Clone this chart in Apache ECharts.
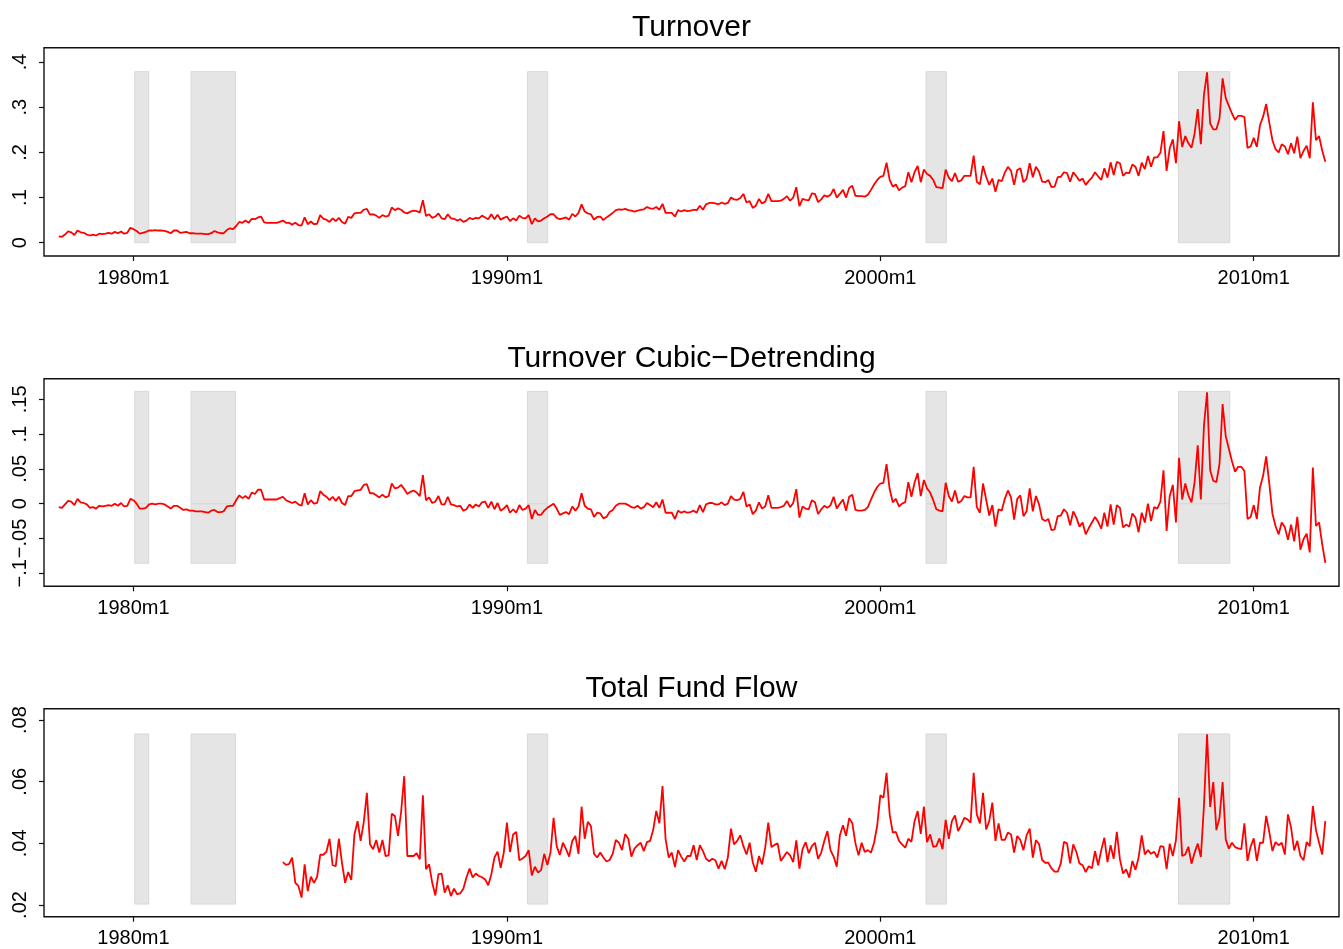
<!DOCTYPE html>
<html><head><meta charset="utf-8">
<script src="https://cdn.jsdelivr.net/npm/echarts@6/dist/echarts.min.js"></script>
<style>html,body{margin:0;padding:0;background:#fff}#c{width:1343px;height:949px}</style>
</head><body><div id="c"></div>
<script>
// ---- data (monthly, index 0 = 1978m1) ----
const seriesStart = "1978m1";
const fundFlowStart = "1984m1";
const xTickLabels = ["1980m1", "1990m1", "2000m1", "2010m1"];
const titles = ["Turnover", "Turnover Cubic\u2212Detrending", "Total Fund Flow"];

const turnover = [
0.014,0.013,0.018,0.025,0.023,0.017,0.027,0.023,0.022,0.018,
0.016,0.018,0.016,0.020,0.019,0.020,0.022,0.020,0.024,0.021,
0.025,0.020,0.022,0.033,0.030,0.026,0.020,0.022,0.024,0.027,
0.027,0.028,0.027,0.027,0.026,0.024,0.021,0.027,0.027,0.022,
0.023,0.024,0.021,0.021,0.020,0.020,0.020,0.019,0.019,0.021,
0.026,0.023,0.021,0.021,0.028,0.032,0.030,0.037,0.046,0.044,
0.049,0.044,0.053,0.052,0.056,0.058,0.045,0.044,0.044,0.044,
0.044,0.046,0.049,0.044,0.044,0.040,0.044,0.039,0.038,0.056,
0.041,0.047,0.041,0.042,0.061,0.053,0.051,0.046,0.054,0.048,
0.055,0.046,0.042,0.057,0.055,0.065,0.066,0.066,0.073,0.075,
0.062,0.063,0.060,0.055,0.061,0.058,0.060,0.078,0.072,0.076,
0.073,0.067,0.065,0.069,0.071,0.070,0.067,0.094,0.059,0.063,
0.055,0.058,0.065,0.054,0.052,0.063,0.054,0.053,0.049,0.052,
0.046,0.049,0.055,0.052,0.055,0.054,0.060,0.056,0.052,0.063,
0.052,0.062,0.051,0.055,0.058,0.048,0.054,0.049,0.060,0.055,
0.054,0.061,0.041,0.054,0.047,0.049,0.054,0.058,0.063,0.063,
0.055,0.052,0.054,0.056,0.051,0.064,0.058,0.066,0.085,0.069,
0.065,0.063,0.051,0.057,0.058,0.050,0.056,0.061,0.066,0.072,
0.074,0.073,0.075,0.072,0.071,0.069,0.071,0.073,0.074,0.079,
0.076,0.075,0.079,0.073,0.086,0.066,0.066,0.066,0.058,0.072,
0.069,0.072,0.070,0.071,0.073,0.072,0.082,0.073,0.085,0.088,
0.088,0.087,0.085,0.089,0.086,0.088,0.100,0.096,0.095,0.099,
0.108,0.089,0.092,0.077,0.082,0.097,0.087,0.091,0.108,0.092,
0.092,0.092,0.093,0.097,0.103,0.093,0.100,0.123,0.081,0.097,
0.095,0.094,0.109,0.108,0.090,0.096,0.105,0.102,0.106,0.119,
0.100,0.108,0.117,0.100,0.121,0.126,0.104,0.103,0.103,0.102,
0.106,0.117,0.129,0.139,0.146,0.148,0.177,0.139,0.124,0.129,
0.116,0.122,0.125,0.156,0.134,0.156,0.170,0.134,0.162,0.152,
0.148,0.139,0.123,0.122,0.121,0.162,0.144,0.136,0.154,0.135,
0.138,0.148,0.148,0.148,0.193,0.135,0.129,0.170,0.146,0.128,
0.142,0.113,0.139,0.136,0.155,0.168,0.159,0.128,0.161,0.165,
0.134,0.142,0.176,0.145,0.168,0.157,0.135,0.134,0.139,0.123,
0.124,0.145,0.146,0.156,0.154,0.135,0.156,0.147,0.137,0.142,
0.128,0.137,0.144,0.156,0.147,0.139,0.165,0.144,0.178,0.150,
0.179,0.176,0.148,0.155,0.154,0.173,0.168,0.148,0.177,0.163,
0.192,0.168,0.189,0.189,0.199,0.247,0.159,0.209,0.229,0.176,
0.269,0.212,0.236,0.220,0.210,0.242,0.296,0.218,0.327,0.377,
0.264,0.251,0.251,0.275,0.364,0.320,0.303,0.286,0.272,0.281,
0.281,0.278,0.210,0.213,0.232,0.212,0.260,0.279,0.307,0.266,
0.227,0.207,0.200,0.218,0.213,0.196,0.220,0.198,0.235,0.187,
0.203,0.215,0.187,0.311,0.227,0.236,0.204,0.179
];

const turnoverDetrended = [
-0.005,-0.006,-0.001,0.004,0.003,-0.002,0.007,0.002,0.001,-0.001,
-0.006,-0.005,-0.007,-0.003,-0.004,-0.003,-0.002,-0.003,0.000,-0.003,
0.001,-0.004,-0.003,0.007,0.005,0.000,-0.007,-0.007,-0.006,-0.001,
0.000,-0.001,0.000,0.000,-0.001,-0.004,-0.007,-0.003,-0.003,-0.006,
-0.009,-0.008,-0.010,-0.010,-0.011,-0.011,-0.011,-0.012,-0.013,-0.010,
-0.009,-0.012,-0.012,-0.011,-0.004,-0.003,-0.003,0.005,0.012,0.008,
0.011,0.007,0.016,0.014,0.020,0.020,0.006,0.006,0.006,0.006,
0.006,0.008,0.010,0.005,0.003,0.001,0.003,-0.001,-0.003,0.015,
-0.001,0.005,0.000,0.001,0.018,0.013,0.010,0.005,0.010,0.004,
0.010,0.001,-0.002,0.011,0.011,0.018,0.019,0.020,0.027,0.028,
0.015,0.015,0.012,0.009,0.013,0.009,0.011,0.029,0.022,0.023,
0.027,0.021,0.014,0.017,0.019,0.016,0.011,0.041,0.005,0.009,
0.001,0.003,0.011,-0.001,-0.001,0.010,-0.001,-0.002,-0.004,-0.003,
-0.010,-0.008,-0.001,-0.006,-0.001,-0.004,0.002,0.003,-0.006,0.003,
-0.008,0.001,-0.010,-0.007,-0.002,-0.013,-0.008,-0.013,-0.002,-0.009,
-0.007,-0.002,-0.022,-0.009,-0.016,-0.016,-0.010,-0.006,-0.003,0.000,
-0.007,-0.016,-0.014,-0.012,-0.015,-0.004,-0.010,-0.004,0.015,-0.003,
-0.007,-0.008,-0.019,-0.013,-0.014,-0.021,-0.019,-0.012,-0.009,-0.003,
0.000,0.000,0.000,-0.002,-0.005,-0.006,-0.003,-0.007,-0.005,0.001,
-0.002,-0.005,0.002,-0.006,0.006,-0.013,-0.013,-0.013,-0.022,-0.010,
-0.013,-0.011,-0.013,-0.012,-0.010,-0.013,-0.002,-0.012,-0.001,0.001,
0.001,-0.001,-0.001,0.002,-0.002,0.000,0.011,0.006,0.005,0.007,
0.017,-0.004,-0.001,-0.015,-0.010,0.002,-0.007,-0.004,0.012,-0.006,
-0.006,-0.006,-0.005,-0.003,0.004,-0.005,0.001,0.021,-0.020,-0.004,
-0.007,-0.008,0.005,0.002,-0.015,-0.008,-0.003,-0.006,-0.002,0.010,
-0.007,0.000,0.006,-0.010,0.010,0.013,-0.009,-0.010,-0.010,-0.009,
-0.005,0.006,0.016,0.024,0.029,0.030,0.057,0.021,0.002,0.007,
-0.004,0.000,0.002,0.031,0.010,0.030,0.044,0.011,0.034,0.022,
0.016,0.005,-0.008,-0.010,-0.011,0.030,0.011,0.003,0.019,0.001,
0.004,0.011,0.009,0.009,0.053,-0.005,-0.013,0.029,0.006,-0.017,
-0.002,-0.033,-0.008,-0.010,0.007,0.019,0.009,-0.023,0.007,0.012,
-0.018,-0.011,0.022,-0.011,0.011,-0.001,-0.022,-0.025,-0.022,-0.038,
-0.037,-0.018,-0.017,-0.008,-0.013,-0.031,-0.011,-0.020,-0.033,-0.027,
-0.044,-0.035,-0.027,-0.019,-0.026,-0.036,-0.013,-0.033,-0.001,-0.030,
-0.002,-0.006,-0.034,-0.030,-0.033,-0.014,-0.020,-0.041,-0.013,-0.027,
0.000,-0.025,-0.005,-0.007,0.003,0.048,-0.039,0.011,0.027,-0.027,
0.066,0.006,0.029,0.012,0.002,0.031,0.084,0.006,0.112,0.160,
0.048,0.033,0.031,0.057,0.143,0.097,0.079,0.061,0.046,0.053,
0.053,0.047,-0.022,-0.019,-0.002,-0.022,0.023,0.040,0.068,0.029,
-0.014,-0.032,-0.044,-0.027,-0.034,-0.052,-0.030,-0.054,-0.019,-0.066,
-0.051,-0.043,-0.070,0.052,-0.032,-0.027,-0.058,-0.085
];

const fundFlow = [
0.0339,0.0330,0.0333,0.0354,0.0272,0.0262,0.0224,0.0332,0.0245,0.0292,
0.0272,0.0291,0.0363,0.0363,0.0373,0.0415,0.0329,0.0326,0.0415,0.0337,
0.0272,0.0307,0.0281,0.0429,0.0472,0.0408,0.0469,0.0564,0.0397,0.0381,
0.0411,0.0370,0.0411,0.0359,0.0361,0.0496,0.0489,0.0424,0.0502,0.0618,
0.0359,0.0359,0.0359,0.0368,0.0348,0.0556,0.0316,0.0332,0.0272,0.0231,
0.0300,0.0302,0.0240,0.0264,0.0229,0.0253,0.0235,0.0238,0.0253,0.0289,
0.0318,0.0289,0.0302,0.0294,0.0290,0.0283,0.0264,0.0300,0.0354,0.0373,
0.0321,0.0370,0.0467,0.0372,0.0429,0.0437,0.0345,0.0351,0.0359,0.0378,
0.0296,0.0324,0.0305,0.0314,0.0366,0.0330,0.0370,0.0483,0.0391,0.0362,
0.0402,0.0381,0.0357,0.0408,0.0424,0.0366,0.0519,0.0415,0.0470,0.0456,
0.0366,0.0354,0.0370,0.0354,0.0341,0.0346,0.0366,0.0411,0.0402,0.0378,
0.0430,0.0415,0.0357,0.0383,0.0394,0.0402,0.0375,0.0404,0.0408,0.0443,
0.0505,0.0465,0.0586,0.0413,0.0354,0.0370,0.0323,0.0378,0.0357,0.0341,
0.0359,0.0359,0.0394,0.0346,0.0394,0.0375,0.0350,0.0342,0.0350,0.0345,
0.0318,0.0343,0.0316,0.0354,0.0448,0.0397,0.0408,0.0426,0.0391,0.0364,
0.0402,0.0339,0.0308,0.0359,0.0332,0.0386,0.0467,0.0388,0.0395,0.0400,
0.0343,0.0357,0.0372,0.0361,0.0339,0.0410,0.0318,0.0381,0.0404,0.0368,
0.0391,0.0402,0.0350,0.0370,0.0408,0.0440,0.0377,0.0357,0.0324,0.0426,
0.0459,0.0424,0.0482,0.0465,0.0400,0.0361,0.0402,0.0372,0.0378,0.0370,
0.0402,0.0458,0.0556,0.0548,0.0629,0.0494,0.0435,0.0437,0.0408,0.0397,
0.0386,0.0415,0.0405,0.0472,0.0505,0.0431,0.0519,0.0404,0.0429,0.0389,
0.0391,0.0416,0.0381,0.0476,0.0415,0.0472,0.0491,0.0440,0.0459,0.0483,
0.0478,0.0467,0.0629,0.0494,0.0465,0.0564,0.0445,0.0472,0.0532,0.0408,
0.0465,0.0411,0.0411,0.0435,0.0429,0.0370,0.0424,0.0411,0.0378,0.0426,
0.0448,0.0354,0.0410,0.0398,0.0346,0.0337,0.0337,0.0319,0.0308,0.0308,
0.0335,0.0405,0.0400,0.0335,0.0397,0.0372,0.0335,0.0329,0.0307,0.0326,
0.0319,0.0375,0.0329,0.0378,0.0418,0.0339,0.0394,0.0350,0.0437,0.0348,
0.0302,0.0316,0.0289,0.0343,0.0314,0.0354,0.0426,0.0364,0.0378,0.0366,
0.0373,0.0354,0.0391,0.0389,0.0316,0.0399,0.0359,0.0410,0.0548,0.0359,
0.0364,0.0389,0.0334,0.0370,0.0399,0.0356,0.0521,0.0754,0.0518,0.0599,
0.0443,0.0483,0.0599,0.0413,0.0383,0.0402,0.0388,0.0384,0.0381,0.0465,
0.0343,0.0389,0.0416,0.0343,0.0402,0.0402,0.0489,0.0437,0.0375,0.0404,
0.0394,0.0402,0.0364,0.0494,0.0451,0.0377,0.0408,0.0359,0.0345,0.0404,
0.0391,0.0521,0.0443,0.0402,0.0364,0.0472
];

// recession spans (month index)
const recessionSpans = [[24.4, 28.9], [42.5, 56.8], [150.6, 157.1], [278.7, 285.2], [359.8, 376.3]];
// vertical extent of the shading in each panel (bottom, [seam], top)
const shadeTurnover = [0, 0.3786];
const shadeDetrended = [-0.0856, 0, 0.1614];
const shadeFundFlow = [0.0203, 0.0755];

// y-axis tick values and labels
const yTicks1 = [0, 0.1, 0.2, 0.3, 0.4];
const yLabels1 = ["0", ".1", ".2", ".3", ".4"];
const yTicks2 = [-0.1, -0.05, 0, 0.05, 0.1, 0.15];
const yLabels2 = ["\u2212.1", "\u2212.05", "0", ".05", ".1", ".15"];
const yTicks3 = [0.02, 0.04, 0.06, 0.08];
const yLabels3 = [".02", ".04", ".06", ".08"];

// ---- build ----
function monthIndex(lbl) { const p = lbl.split('m'); return (+p[0] - 1978) * 12 + (+p[1] - 1); }
const s0 = monthIndex(seriesStart);
const f0 = monthIndex(fundFlowStart);
const xTickIdx = xTickLabels.map(monthIndex);
const FONT = '"Liberation Sans", Arial, Helvetica, sans-serif';

const grids = [
  { top: 47.7, height: 208.3 },
  { top: 378.7, height: 207.6 },
  { top: 708.7, height: 208.0 }
];
const yRanges = [[-0.0294, 0.4317], [-0.1187, 0.1796], [0.0162, 0.0837]];
const yTicks = [yTicks1, yTicks2, yTicks3];
const yLabels = [yLabels1, yLabels2, yLabels3];

function labelOf(ticks, labels, v) {
  for (let k = 0; k < ticks.length; k++) if (Math.abs(ticks[k] - v) < 1e-9) return labels[k];
  return '';
}

const option = {
  animation: false,
  backgroundColor: '#fff',
  title: titles.map((t, g) => ({
    text: t, left: 691.5, top: grids[g].top - 35, textAlign: 'center', padding: 0,
    textStyle: { fontSize: 30, fontWeight: 'normal', color: '#000', fontFamily: FONT }
  })),
  grid: grids.map(g => ({ left: 44, right: 4, top: g.top, height: g.height, show: true,
    borderColor: '#111', borderWidth: 1.4, backgroundColor: '#fff' })),
  xAxis: grids.map((g, i) => ({
    type: 'value', gridIndex: i, min: -4.76, max: 411.4,
    splitLine: { show: false }, axisLine: { show: false, onZero: false },
    axisTick: { show: true, customValues: xTickIdx, length: 5, lineStyle: { color: '#111', width: 1.2 } },
    axisLabel: { customValues: xTickIdx, formatter: v => xTickLabels[xTickIdx.indexOf(v)] || '',
      fontSize: 20, color: '#000', margin: 12, fontFamily: FONT }
  })),
  yAxis: grids.map((g, i) => ({
    type: 'value', gridIndex: i, min: yRanges[i][0], max: yRanges[i][1],
    splitLine: { show: false }, axisLine: { show: false, onZero: false },
    axisTick: { show: true, customValues: yTicks[i], length: 5, lineStyle: { color: '#111', width: 1.2 } },
    axisLabel: { customValues: yTicks[i], rotate: 90, formatter: v => labelOf(yTicks[i], yLabels[i], v),
      fontSize: 20, color: '#000', margin: 14, fontFamily: FONT }
  })),
  series: []
};

function shadeAreas(bounds) {
  const out = [];
  recessionSpans.forEach(sp => {
    for (let k = 0; k < bounds.length - 1; k++) {
      out.push([{ xAxis: sp[0], yAxis: bounds[k] }, { xAxis: sp[1], yAxis: bounds[k + 1] }]);
    }
  });
  return out;
}
const shades = [shadeTurnover, shadeDetrended, shadeFundFlow];
const datas = [
  turnover.map((v, k) => [s0 + k, v]),
  turnoverDetrended.map((v, k) => [s0 + k, v]),
  fundFlow.map((v, k) => [f0 + k, v])
];
for (let i = 0; i < 3; i++) {
  option.series.push({
    type: 'line', xAxisIndex: i, yAxisIndex: i, data: [], z: 1, silent: true,
    markArea: { silent: true, itemStyle: { color: '#e5e5e5', borderColor: '#d8d8d8', borderWidth: 1 }, data: shadeAreas(shades[i]) }
  });
  option.series.push({
    type: 'line', xAxisIndex: i, yAxisIndex: i, data: datas[i], z: 3, symbol: 'none', showSymbol: false,
    lineStyle: { color: '#ff0000', width: 1.8 }, silent: true
  });
}

const chart = echarts.init(document.getElementById('c'), null, { renderer: 'canvas' });
chart.setOption(option);
</script></body></html>
